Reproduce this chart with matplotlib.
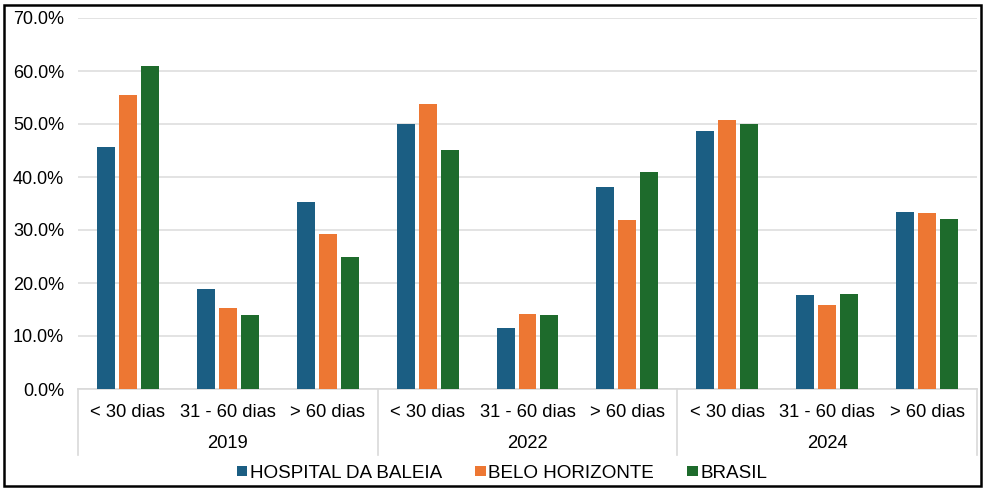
import numpy as np
import matplotlib
matplotlib.use("Agg")
import matplotlib.pyplot as plt
from matplotlib.patches import Rectangle
from matplotlib.ticker import FuncFormatter

plt.rcParams['font.family'] = ['Liberation Sans', 'DejaVu Sans']

# data (% of cases by time interval)
years = ["2019", "2022", "2024"]
intervals = ["< 30 dias", "31 - 60 dias", "> 60 dias"]
series = ["HOSPITAL DA BALEIA", "BELO HORIZONTE", "BRASIL"]
hospital = [45.7, 18.8, 35.3, 50.0, 11.6, 38.2, 48.6, 17.8, 33.4]
bh = [55.5, 15.2, 29.2, 53.8, 14.2, 31.8, 50.8, 15.8, 33.2]
brasil = [61.0, 14.0, 25.0, 45.1, 14.0, 41.0, 50.0, 18.0, 32.0]
colors = ["#1B5E83", "#ED7733", "#1E6B2C"]

fig = plt.figure(figsize=(9.83, 4.88), dpi=100)
ax = fig.add_axes([78 / 983, 99 / 488, 899 / 983, 371 / 488])

n_cat = len(years) * len(intervals)
x = np.arange(n_cat)
width = 0.18
step = 0.22
for i, (vals, name, c) in enumerate(zip([hospital, bh, brasil], series, colors)):
    ax.bar(x + (i - 1) * step, vals, width, color=c, label=name, zorder=3)

ax.set_xlim(-0.5, n_cat - 0.5)
ax.set_ylim(0, 70)
ax.set_yticks(np.arange(0, 71, 10))
ax.yaxis.set_major_formatter(FuncFormatter(lambda v, p: f"{v:.1f}%"))
ax.tick_params(axis="y", length=0, labelsize=13, pad=10)
ax.tick_params(axis="x", length=0, labelbottom=False)
ax.grid(axis="y", color="#E3E3E3", linewidth=1.4, zorder=0)
for s in ["top", "right", "left"]:
    ax.spines[s].set_visible(False)
ax.spines["bottom"].set_color("#D9D9D9")
ax.spines["bottom"].set_linewidth(1.2)

# two-level category axis
trans = ax.get_xaxis_transform()
for k in range(n_cat):
    ax.text(k, -0.064, intervals[k % 3], transform=trans, ha="center", va="center",
            fontsize=13.2)
for j, yr in enumerate(years):
    ax.text(3 * j + 1, -0.148, yr, transform=trans, ha="center", va="center",
            fontsize=13.2)
for b in range(len(years) + 1):
    ax.plot([3 * b - 0.5, 3 * b - 0.5], [0, -0.178], transform=trans, color="#D9D9D9",
            linewidth=1.2, clip_on=False)

fig.legend(loc="center", bbox_to_anchor=(502 / 983, 1 - 473 / 488), ncol=3,
           frameon=False, fontsize=13.6, handlelength=0.55, handleheight=0.45,
           handletextpad=0.15, columnspacing=1.75)

# outer frame
fig.patches.append(Rectangle((4 / 983, 2 / 488), 977 / 983, 481 / 488,
                             transform=fig.transFigure, fill=False,
                             edgecolor="black", linewidth=1.8))

fig.savefig("out.png", dpi=100)
